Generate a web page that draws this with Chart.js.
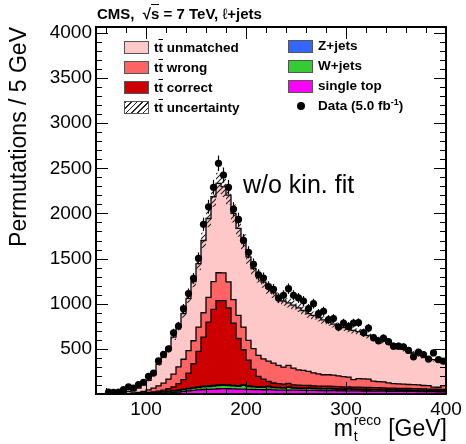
<!DOCTYPE html>
<html>
<head>
<meta charset="utf-8">
<script src="https://cdn.jsdelivr.net/npm/chart.js@4.4.1/dist/chart.umd.min.js"></script>
<style>
  html, body { margin: 0; padding: 0; background: #fff; }
  #wrap { position: relative; width: 466px; height: 444px; font-family: "Liberation Sans", Arial, sans-serif; color: #000; }
  #wrap canvas { position: absolute; left: 0; top: 0; }
  .txt { position: absolute; white-space: nowrap; }
  .leg { position: absolute; white-space: nowrap; font-weight: bold; font-size: 13.5px; line-height: 14px; }
  .box { position: absolute; width: 25px; height: 13px; border: 1px solid #555; box-sizing: border-box; }
  .ov { text-decoration: overline; }
</style>
</head>
<body>
<div id="wrap">
  <canvas id="mtChart" width="466" height="444"></canvas>

  <div class="txt" style="left:97px;top:5px;font-weight:bold;font-size:15px;line-height:18px;">CMS, &nbsp;√<span style="border-top:1px solid #000;">s</span> = 7 TeV, <span style="font-weight:normal;">ℓ</span>+jets</div>

  <div class="txt" style="left:243px;top:170px;font-size:25px;line-height:28px;">w/o kin. fit</div>

  <div class="box" style="left:124px;top:41px;background:#ffc8c8;"></div>
  <div class="leg" style="left:154px;top:41px;">t<span class="ov">t</span> unmatched</div>
  <div class="box" style="left:124px;top:61px;background:#ff6464;"></div>
  <div class="leg" style="left:154px;top:61px;">t<span class="ov">t</span> wrong</div>
  <div class="box" style="left:124px;top:81px;background:#cc0000;"></div>
  <div class="leg" style="left:154px;top:81px;">t<span class="ov">t</span> correct</div>
  <div class="box" style="left:124px;top:101px;background:repeating-linear-gradient(135deg,#222 0 1px,#fff 1px 4px);"></div>
  <div class="leg" style="left:154px;top:101px;">t<span class="ov">t</span> uncertainty</div>

  <div class="box" style="left:288px;top:40px;background:#3366ff;"></div>
  <div class="leg" style="left:318px;top:39px;">Z+jets</div>
  <div class="box" style="left:288px;top:60px;background:#33cc33;"></div>
  <div class="leg" style="left:318px;top:59px;">W+jets</div>
  <div class="box" style="left:288px;top:80px;background:#ff00ff;"></div>
  <div class="leg" style="left:318px;top:79px;">single top</div>
  <div style="position:absolute;left:297px;top:102px;width:8px;height:8px;border-radius:50%;background:#000;"></div>
  <div class="leg" style="left:318px;top:99px;">Data (5.0 fb<sup style="font-size:9px;line-height:0;">-1</sup>)</div>

  <div class="txt" style="right:19px;top:415px;font-size:23px;line-height:26px;">m<span style="position:relative;display:inline-block;width:29px;height:20px;"><span style="position:absolute;left:1px;top:-3px;font-size:14px;line-height:14px;">reco</span><span style="position:absolute;left:1px;top:13px;font-size:14px;line-height:14px;">t</span></span> [GeV]</div>
</div>

<script>
// binning of the m_t reco histogram (GeV)
var xMin = 50;
var xMax = 400;
var binWidth = 5;
var nBins = 70;

var xTickLabels = [100, 200, 300, 400];
var yTickLabels = [500, 1000, 1500, 2000, 2500, 3000, 3500, 4000];

// data, permutations per bin (first two bins empty)
var dataCounts = [null, null, 20, 18, 20, 50, 80, 65, 105, 130,
	195, 232, 366, 440, 500, 678, 752, 945, 1112, 1280,
	1502, 1880, 2074, 2290, 2555, 2425, 2290, 2048, 1934, 1702,
	1570, 1437, 1320, 1285, 1190, 1160, 1062, 1093, 1167, 1093,
	1064, 1030, 946, 1001, 890, 916, 824, 835, 741, 786,
	749, 786, 790, 680, 730, 624, 590, 618, 580, 530,
	530, 522, 483, 412, 464, 437, 387, 455, 380, 364];

var dataErrors = [0, 0, 8, 7, 8, 12, 15, 14, 17, 19,
	24, 26, 33, 36, 38, 44, 47, 52, 57, 61,
	66, 74, 77, 81, 86, 84, 81, 77, 75, 70,
	67, 64, 62, 61, 59, 58, 55, 56, 58, 56,
	55, 55, 52, 54, 51, 51, 49, 49, 46, 48,
	47, 48, 48, 44, 46, 42, 41, 42, 41, 39,
	39, 39, 37, 35, 37, 36, 33, 36, 33, 32];

// simulation, stacked from the bottom up
var singleTop = [0, 0, 0, 0, 0, 0, 0, 0, 1, 2,
	3, 4, 6, 8, 12, 16, 22, 28, 34, 40,
	45, 50, 52, 55, 58, 60, 58, 56, 54, 55,
	52, 50, 48, 47, 50, 45, 44, 43, 44, 42,
	42, 41, 40, 40, 39, 38, 38, 37, 36, 36,
	35, 35, 34, 33, 33, 32, 31, 31, 30, 30,
	29, 29, 28, 28, 27, 27, 26, 26, 25, 25];

var wJets = [0, 0, 0, 0, 1, 1, 2, 3, 4, 5,
	6, 8, 10, 12, 14, 16, 18, 20, 22, 25,
	27, 29, 31, 33, 35, 36, 34, 33, 32, 40,
	30, 28, 27, 26, 30, 25, 24, 23, 30, 22,
	21, 20, 22, 19, 18, 18, 20, 17, 16, 16,
	18, 15, 15, 14, 14, 13, 13, 12, 12, 12,
	11, 11, 11, 10, 10, 10, 9, 9, 9, 8];

var zJets = [0, 0, 0, 0, 0, 0, 1, 1, 1, 1,
	2, 2, 3, 3, 4, 4, 5, 5, 6, 6,
	7, 7, 8, 8, 8, 8, 8, 7, 7, 7,
	7, 6, 6, 6, 6, 6, 5, 5, 5, 5,
	5, 5, 5, 5, 4, 4, 4, 4, 4, 4,
	4, 4, 4, 4, 4, 3, 3, 3, 3, 3,
	3, 3, 3, 3, 3, 3, 3, 3, 3, 3];

var ttCorrect = [0, 0, 0, 0, 0, 1, 1, 2, 3, 4,
	6, 10, 13, 19, 28, 42, 70, 107, 169, 264,
	393, 544, 706, 842, 934, 931, 855, 689, 522, 388,
	286, 188, 114, 86, 54, 46, 42, 37, 39, 33,
	30, 29, 27, 27, 27, 26, 25, 25, 25, 24,
	23, 23, 23, 23, 22, 22, 22, 22, 21, 20,
	20, 19, 19, 19, 18, 17, 17, 17, 17, 16];

var ttWrong = [0, 0, 0, 1, 1, 2, 4, 6, 9, 18,
	28, 41, 58, 78, 107, 142, 185, 225, 249, 255,
	269, 270, 273, 307, 308, 306, 286, 260, 255, 251,
	219, 230, 232, 225, 224, 220, 201, 190, 198, 185,
	170, 166, 156, 144, 136, 127, 126, 125, 119, 112,
	107, 83, 94, 94, 92, 72, 69, 67, 58, 50,
	50, 48, 44, 44, 44, 37, 37, 21, 21, 40];

var ttUnmatched = [0, 2, 5, 7, 10, 11, 20, 30, 47, 70,
	105, 150, 240, 290, 345, 410, 450, 505, 580, 655,
	704, 800, 874, 940, 990, 955, 962, 955, 964, 944,
	925, 888, 873, 850, 806, 778, 754, 732, 694, 698,
	687, 664, 640, 635, 621, 607, 582, 567, 555, 543,
	533, 545, 520, 500, 483, 486, 467, 455, 446, 425,
	402, 385, 370, 351, 333, 321, 303, 304, 290, 253];

// tt uncertainty (absolute, around the stacked total)
var ttUncertainty = [0, 0, 0, 1, 1, 1, 2, 3, 4, 6,
	8, 11, 17, 21, 26, 32, 38, 45, 53, 62,
	72, 85, 97, 110, 117, 115, 110, 100, 92, 85,
	76, 70, 65, 62, 59, 56, 54, 52, 51, 49,
	48, 46, 45, 44, 42, 41, 40, 39, 38, 37,
	36, 35, 35, 33, 32, 31, 30, 30, 29, 27,
	26, 25, 24, 23, 22, 21, 20, 19, 18, 17];

var FONT = '"Liberation Sans", Arial, sans-serif';

var edges = [];
for (var i = 0; i <= nBins; i++) edges.push(xMin + i * binWidth);

// histogram as step points on the bin edges (last value repeated at the upper edge)
var histPoints = function(values) {
	var pts = values.map(function(v, i) {
		return { x: edges[i], y: v };
	});
	pts.push({ x: edges[nBins], y: values[nBins - 1] });
	return pts;
};

var total = ttUnmatched.map(function(v, i) {
	return singleTop[i] + wJets[i] + zJets[i] + ttCorrect[i] + ttWrong[i] + v;
});
var bandLow = total.map(function(v, i) { return v - ttUncertainty[i]; });
var bandHigh = total.map(function(v, i) { return v + ttUncertainty[i]; });

var dataPoints = [];
dataCounts.forEach(function(v, i) {
	if (v !== null) dataPoints.push({ x: edges[i] + binWidth / 2, y: v, err: dataErrors[i] });
});

var makeHatch = function() {
	var c = document.createElement('canvas');
	c.width = 5;
	c.height = 5;
	var g = c.getContext('2d');
	g.strokeStyle = '#222';
	g.lineWidth = 1.1;
	g.beginPath();
	g.moveTo(0, 5); g.lineTo(5, 0);
	g.moveTo(-1, 1); g.lineTo(1, -1);
	g.moveTo(4, 6); g.lineTo(6, 4);
	g.stroke();
	return g.createPattern(c, 'repeat');
};

var stackSet = function(label, values, color, fill) {
	return {
		label: label,
		data: histPoints(values),
		stepped: 'before',
		fill: fill,
		backgroundColor: color,
		borderColor: '#000',
		borderWidth: 1.3,
		pointRadius: 0,
		order: 3
	};
};

var errorBars = {
	id: 'errorBars',
	afterDatasetsDraw: function(chart) {
		var idx = chart.data.datasets.length - 1;
		var meta = chart.getDatasetMeta(idx);
		var y = chart.scales.y;
		var ctx = chart.ctx;
		ctx.save();
		ctx.strokeStyle = '#000';
		ctx.lineWidth = 1.2;
		meta.data.forEach(function(pt, k) {
			var raw = chart.data.datasets[idx].data[k];
			ctx.beginPath();
			ctx.moveTo(pt.x, y.getPixelForValue(raw.y - raw.err));
			ctx.lineTo(pt.x, y.getPixelForValue(raw.y + raw.err));
			ctx.stroke();
		});
		ctx.restore();
	}
};

// ROOT style frame with inward ticks
var frameTicks = {
	id: 'frameTicks',
	afterDraw: function(chart) {
		var a = chart.chartArea;
		var x = chart.scales.x, y = chart.scales.y;
		var ctx = chart.ctx;
		ctx.save();
		ctx.strokeStyle = '#000';
		ctx.lineWidth = 1;
		ctx.beginPath();
		for (var v = 100; v <= 4000; v += 100) {
			var py = Math.round(y.getPixelForValue(v)) + 0.5;
			var len = v % 500 === 0 ? 12 : 6;
			ctx.moveTo(a.left, py); ctx.lineTo(a.left + len, py);
			ctx.moveTo(a.right, py); ctx.lineTo(a.right - len, py);
		}
		for (var m = 60; m < xMax; m += 20) {
			var px = Math.round(x.getPixelForValue(m)) + 0.5;
			var l = m % 100 === 0 ? 12 : 6;
			ctx.moveTo(px, a.bottom); ctx.lineTo(px, a.bottom - l);
			ctx.moveTo(px, a.top); ctx.lineTo(px, a.top + l);
		}
		ctx.stroke();
		ctx.lineWidth = 2;
		ctx.strokeRect(a.left, a.top, a.right - a.left, a.bottom - a.top);
		ctx.restore();
	}
};

var mtChart = new Chart(document.getElementById('mtChart'), {
	type: 'line',
	data: {
		datasets: [
			stackSet('single top', singleTop, '#ff00ff', 'origin'),
			stackSet('W+jets', wJets, '#33cc33', '-1'),
			stackSet('Z+jets', zJets, '#3366ff', '-1'),
			stackSet('tt correct', ttCorrect, '#cc0000', '-1'),
			stackSet('tt wrong', ttWrong, '#ff6464', '-1'),
			stackSet('tt unmatched', ttUnmatched, '#ffc8c8', '-1'),
			{
				label: 'unc low',
				data: histPoints(bandLow),
				stack: 'uncLow',
				stepped: 'before',
				fill: false,
				borderWidth: 0,
				pointRadius: 0,
				order: 2
			},
			{
				label: 'tt uncertainty',
				data: histPoints(bandHigh),
				stack: 'uncHigh',
				stepped: 'before',
				fill: '-1',
				backgroundColor: makeHatch(),
				borderWidth: 0,
				pointRadius: 0,
				order: 2
			},
			{
				label: 'Data',
				data: dataPoints,
				stack: 'data',
				showLine: false,
				pointRadius: 3.6,
				pointBackgroundColor: '#000',
				pointBorderWidth: 0,
				order: 1
			}
		]
	},
	options: {
		responsive: false,
		animation: false,
		devicePixelRatio: 1,
		layout: { padding: { top: 27, right: 20, left: 0, bottom: 0 } },
		plugins: {
			legend: { display: false },
			tooltip: { enabled: false }
		},
		scales: {
			x: {
				type: 'linear',
				min: xMin,
				max: xMax,
				grid: { display: false, drawTicks: false },
				border: { display: false },
				afterBuildTicks: function(s) {
					s.ticks = xTickLabels.map(function(v) { return { value: v }; });
				},
				afterFit: function(s) { s.height = 50; },
				ticks: {
					color: '#000', padding: 4, maxRotation: 0, font: { family: FONT, size: 19 },
					callback: function(v) { return String(v); }
				}
			},
			y: {
				stacked: true,
				min: 0,
				max: 4065,
				grid: { display: false, drawTicks: false },
				border: { display: false },
				afterBuildTicks: function(s) {
					s.ticks = yTickLabels.map(function(v) { return { value: v }; });
				},
				afterFit: function(s) { s.width = 96; },
				ticks: {
					color: '#000', padding: 4, font: { family: FONT, size: 19 },
					callback: function(v) { return String(v); }
				},
				title: {
					display: true,
					text: 'Permutations / 5 GeV',
					align: 'end',
					color: '#000',
					padding: { top: 6, bottom: 0 },
					font: { family: FONT, size: 23 }
				}
			}
		}
	},
	plugins: [errorBars, frameTicks]
});
</script>
</body>
</html>
